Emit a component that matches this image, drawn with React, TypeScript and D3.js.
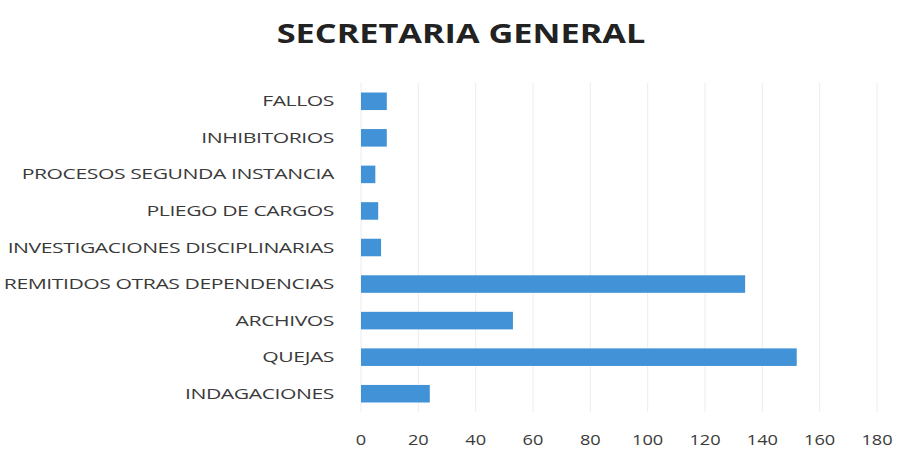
import React, { useEffect, useRef } from 'react';
import * as d3 from 'd3';

// categories top to bottom, as in the picture
const categories = [
  'FALLOS',
  'INHIBITORIOS',
  'PROCESOS SEGUNDA INSTANCIA',
  'PLIEGO DE CARGOS',
  'INVESTIGACIONES DISCIPLINARIAS',
  'REMITIDOS OTRAS DEPENDENCIAS',
  'ARCHIVOS',
  'QUEJAS',
  'INDAGACIONES',
];
const values = [9, 9, 5, 6, 7, 134, 53, 152, 24];
const xTicks = [0, 20, 40, 60, 80, 100, 120, 140, 160, 180];
const title = 'SECRETARIA GENERAL';

const App: React.FC = () => {
  const svgRef = useRef<SVGSVGElement | null>(null);

  useEffect(() => {
    if (svgRef.current == null) return;
    const width = 918;
    const height = 457;
    const margin = { top: 83, right: 41, bottom: 45, left: 361 };
    const innerWidth = width - margin.left - margin.right;
    const innerHeight = height - margin.top - margin.bottom;
    const stretch = 1.46; // the source text is drawn wide

    const svg = d3.select(svgRef.current);
    svg.selectAll('*').remove();
    svg.attr('width', width).attr('height', height);

    svg.append('rect').attr('width', width).attr('height', height).attr('fill', '#ffffff');

    const x = d3.scaleLinear().domain([0, 180]).range([0, innerWidth]);
    const y = d3.scaleBand<string>().domain(categories).range([0, innerHeight]).paddingInner(0.52).paddingOuter(0.26);

    const g = svg.append('g').attr('transform', `translate(${margin.left},${margin.top})`);

    // gridlines
    g.selectAll('line.grid')
      .data(xTicks)
      .enter()
      .append('line')
      .attr('class', 'grid')
      .attr('x1', d => x(d))
      .attr('x2', d => x(d))
      .attr('y1', 0)
      .attr('y2', innerHeight)
      .attr('stroke', '#ececec')
      .attr('stroke-width', 1);

    // bars
    g.selectAll('rect.bar')
      .data(values)
      .enter()
      .append('rect')
      .attr('class', 'bar')
      .attr('x', 0)
      .attr('y', (_, i) => y(categories[i]) as number)
      .attr('width', d => x(d))
      .attr('height', y.bandwidth())
      .attr('fill', '#4192d6');

    // y labels
    g.selectAll('text.cat')
      .data(categories)
      .enter()
      .append('text')
      .attr('class', 'cat')
      .attr('transform', d => `translate(-27,${(y(d) as number) + y.bandwidth() / 2}) scale(${stretch},1)`)
      .attr('dy', '0.35em')
      .attr('text-anchor', 'end')
      .attr('font-family', 'Open Sans, sans-serif')
      .attr('font-size', 14.5)
      .attr('letter-spacing', -0.3)
      .attr('fill', '#3a3a3a')
      .text(d => d);

    // x tick labels
    g.selectAll('text.tick')
      .data(xTicks)
      .enter()
      .append('text')
      .attr('class', 'tick')
      .attr('transform', d => `translate(${x(d)},${innerHeight + 33}) scale(1.3,1)`)
      .attr('text-anchor', 'middle')
      .attr('font-family', 'Open Sans, sans-serif')
      .attr('font-size', 14)
      .attr('fill', '#3a3a3a')
      .text(d => d);

    svg.append('text')
      .attr('transform', `translate(461,43) scale(1.27,1)`)
      .attr('text-anchor', 'middle')
      .attr('font-family', 'Open Sans, sans-serif')
      .attr('font-weight', 'bold')
      .attr('font-size', 27)
      .attr('fill', '#222')
      .text(title);
  }, []);

  return <svg ref={svgRef} style={{ position: 'absolute', left: 0, top: 0 }}></svg>;
};

export default App;
